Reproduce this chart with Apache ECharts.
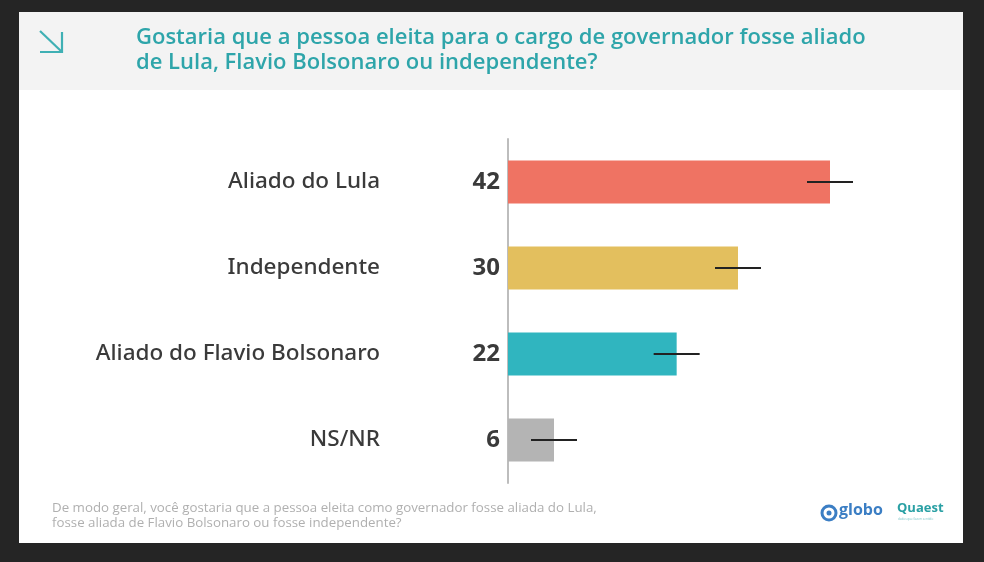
<!DOCTYPE html>
<html>
<head>
<meta charset="utf-8">
<script src="https://cdn.jsdelivr.net/npm/echarts@6/dist/echarts.min.js"></script>
<style>
  html, body { margin: 0; padding: 0; background: #252525; }
  #chart { width: 984px; height: 562px; }
</style>
</head>
<body>
<div id="chart"></div>
<script>
// categories top to bottom
var categories = ['Aliado do Lula', 'Independente', 'Aliado do Flavio Bolsonaro', 'NS/NR'];
var values = [42, 30, 22, 6];
var barColors = ['#ef7363', '#e3bf5e', '#30b5bf', '#b4b4b4'];
// margem de erro (aprox. 3 p.p.)
var errLow = [39, 27, 19, 3];
var errHigh = [45, 33, 25, 9];

var titleLines = 'Gostaria que a pessoa eleita para o cargo de governador fosse aliado\nde Lula, Flavio Bolsonaro ou independente?';
var footLines = 'De modo geral, você gostaria que a pessoa eleita como governador fosse aliada do Lula,\nfosse aliada de Flavio Bolsonaro ou fosse independente?';

var chart = echarts.init(document.getElementById('chart'));

var barData = values.map(function (v, i) {
    return { value: v, itemStyle: { color: barColors[i] } };
});
var errData = errLow.map(function (lo, i) {
    return [i, lo, errHigh[i]];
});

var option = {
    backgroundColor: '#252525',
    animation: false,
    graphic: [
        // painel branco
        { type: 'rect', shape: { x: 19, y: 12, width: 944, height: 531 }, style: { fill: '#ffffff' }, z: -10 },
        { type: 'rect', shape: { x: 19, y: 12, width: 944, height: 78 }, style: { fill: '#f3f3f3' }, z: -9 },
        // seta
        { type: 'polyline', shape: { points: [[40, 31], [62, 52]] }, style: { stroke: '#3fb0b4', lineWidth: 2.2, fill: null } },
        { type: 'polyline', shape: { points: [[40, 52], [62, 52], [62, 32]] }, style: { stroke: '#3fb0b4', lineWidth: 2.2, fill: null } },
        {
            type: 'text', left: 136, top: 25,
            style: { text: titleLines, fill: '#2ea5aa', font: '600 22px "Open Sans", sans-serif', lineHeight: 25 }
        },
        {
            type: 'text', left: 52, top: 501,
            style: { text: footLines, fill: '#b0b0b0', font: '13.3px "Open Sans", sans-serif', lineHeight: 15 }
        },
        // logos
        { type: 'circle', shape: { cx: 829, cy: 513, r: 7 }, style: { fill: 'none', stroke: '#3b7ec4', lineWidth: 3 } },
        { type: 'circle', shape: { cx: 829, cy: 513, r: 2.5 }, style: { fill: '#3b7ec4' } },
        {
            type: 'text', left: 839, top: 502,
            style: { text: 'globo', fill: '#3b7ec4', font: 'bold 16px "Open Sans", sans-serif' }
        },
        {
            type: 'text', left: 897, top: 502,
            style: { text: 'Quaest', fill: '#2aa0a4', font: 'bold 13px "Open Sans", sans-serif' }
        },
        {
            type: 'text', left: 898, top: 518,
            style: { text: 'dados que fazem sentido', fill: '#7fc6c8', font: '3px "Open Sans", sans-serif' }
        }
    ],
    grid: { left: 508, top: 139, width: 460, height: 344, containLabel: false },
    xAxis: {
        type: 'value', min: 0, max: 60,
        show: false
    },
    yAxis: {
        type: 'category',
        data: categories,
        inverse: true,
        axisLine: { show: true, lineStyle: { color: '#bdbdbd', width: 2 } },
        axisTick: { show: false },
        axisLabel: {
            margin: 128,
            color: '#3a3a3a',
            fontSize: 22.5,
            fontFamily: '"Noto Sans", sans-serif',
            fontWeight: 500
        }
    },
    series: [
        {
            type: 'bar',
            data: barData,
            barWidth: 43,
            label: {
                show: true,
                position: 'left',
                distance: 8,
                color: '#3a3a3a',
                fontSize: 24,
                fontWeight: 'bold',
                fontFamily: '"Noto Sans", sans-serif'
            }
        },
        {
            type: 'custom',
            data: errData,
            z: 5,
            renderItem: function (params, api) {
                var c = api.value(0);
                var a = api.coord([api.value(1), c]);
                var b = api.coord([api.value(2), c]);
                return {
                    type: 'line',
                    shape: { x1: a[0], y1: a[1], x2: b[0], y2: b[1] },
                    style: { stroke: '#222', lineWidth: 2 }
                };
            }
        }
    ]
};

chart.setOption(option);
</script>
</body>
</html>
